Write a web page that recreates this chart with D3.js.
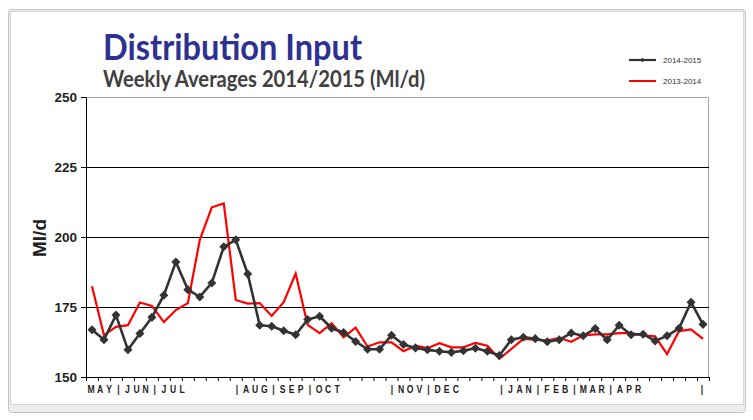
<!DOCTYPE html>
<html>
<head>
<meta charset="utf-8">
<script src="https://cdn.jsdelivr.net/npm/d3@7"></script>
<style>
  body { margin: 0; background: #fff; }
  svg { display: block; font-family: "Liberation Sans", Arial, sans-serif; }
</style>
</head>
<body>
<svg id="chart" width="753" height="420"></svg>
<script>
// weekly averages, May -> April (52 weeks)
const weeks = d3.range(52);
const series1415 = [166.9, 163.3, 172.1, 159.7, 165.5, 171.3, 179.2, 191.1, 181.2, 178.6,
  183.6, 196.5, 199.0, 186.8, 168.5, 168.1, 166.5, 165.1, 170.5, 171.7,
  167.4, 165.9, 162.7, 159.9, 159.9, 164.9, 161.6, 160.4, 159.7, 159.2,
  158.8, 159.4, 160.3, 159.2, 157.7, 163.3, 164.2, 163.7, 162.6, 163.3,
  165.7, 164.7, 167.3, 163.3, 168.5, 165.1, 165.3, 162.9, 164.7, 167.4,
  176.7, 168.8];
const series1314 = [182.4, 164.9, 167.9, 168.5, 176.6, 175.4, 169.6, 173.9, 176.4, 199.0,
  210.6, 212.0, 177.5, 176.2, 176.4, 171.8, 176.7, 186.9, 168.6, 165.7,
  169.2, 164.2, 167.6, 160.9, 162.4, 162.4, 159.2, 161.2, 160.3, 162.1,
  160.6, 160.6, 162.2, 161.2, 156.5, 160.0, 163.6, 163.3, 163.0, 164.0,
  162.6, 164.9, 165.2, 165.2, 165.7, 165.7, 164.9, 164.5, 158.2, 166.4,
  167.0, 163.6];
const seriesNames = ["2014-2015", "2013-2014"];
const yTicks = [150, 175, 200, 225, 250];
const monthLabel = "MAY|JUN|JUL     |AUG|SEP|OCT     |NOV|DEC    |JAN|FEB|MAR|APR      |";

const svg = d3.select("#chart");
const margin = {top: 97, left: 86, right: 44, bottom: 43};
const W = 753, H = 420;
const width = W - margin.left - margin.right,
  height = H - margin.top - margin.bottom;

// frame
svg.append("rect").attr("x", 8.5).attr("y", 9.5).attr("width", 737).attr("height", 403)
  .attr("rx", 3).attr("fill", "#ececec").attr("stroke", "#c4c4c4");
svg.append("rect").attr("x", 10.5).attr("y", 11.5).attr("width", 733).attr("height", 393)
  .attr("fill", "#fff").attr("stroke", "#d4d4d4");

const x = d3.scaleLinear().domain([0, 52]).range([0, width]);
const y = d3.scaleLinear().domain([150, 250]).range([height, 0]);

const g = svg.append("g").attr("transform", `translate(${margin.left},${margin.top})`);

// plot area border (top/right gray)
g.append("path")
  .attr("d", `M0,0.5H${width - 0.5}V${height}`)
  .attr("fill", "none").attr("stroke", "#a6a6a6");

// gridlines
g.append("g")
  .call(d3.axisLeft(y).tickValues([175, 200, 225]).tickSize(-width).tickFormat(""))
  .call(a => a.select(".domain").remove())
  .selectAll("line").attr("stroke", "#000");

// y axis
g.append("g")
  .call(d3.axisLeft(y).tickValues(yTicks).tickSize(5).tickPadding(4))
  .call(a => a.select(".domain").attr("stroke", "#000"))
  .call(a => a.selectAll("line").attr("stroke", "#000"))
  .call(a => a.selectAll("text")
    .attr("font-size", 13.5).attr("font-weight", "bold").attr("fill", "#222"));

// x axis, ticks between weeks
g.append("g")
  .attr("transform", `translate(0,${height})`)
  .call(d3.axisBottom(x).tickValues(d3.range(53)).tickSize(4).tickFormat(""))
  .call(a => a.selectAll("line, .domain").attr("stroke", "#000"));

// month label strip
const slot = d3.scaleLinear().domain([0, monthLabel.length - 1])
  .range([x(0.5) - 1, x(51.5) - 1]);
g.append("g")
  .selectAll("text")
  .data(monthLabel.split("").map((c, i) => ({c, i})).filter(d => d.c !== " "))
  .join("text")
  .attr("transform", d => `translate(${slot(d.i)},${height + 16}) scale(0.82,1)`)
  .attr("text-anchor", "middle")
  .attr("font-size", 10.5)
  .attr("font-weight", "bold")
  .attr("fill", "#222")
  .text(d => d.c);

// lines
const line = d3.line()
  .x((d, i) => x(i + 0.5))
  .y(d => y(d));

g.append("path")
  .datum(series1314)
  .attr("fill", "none")
  .attr("stroke", "#ff0000")
  .attr("stroke-width", 2.2)
  .attr("d", line);

g.append("path")
  .datum(series1415)
  .attr("fill", "none")
  .attr("stroke", "#333")
  .attr("stroke-width", 2.6)
  .attr("d", line);

const diamond = d3.symbol().type(d3.symbolDiamond2).size(52);
g.selectAll(".pt")
  .data(series1415)
  .join("path")
  .attr("class", "pt")
  .attr("transform", (d, i) => `translate(${x(i + 0.5)},${y(d)})`)
  .attr("d", diamond)
  .attr("fill", "#333");

// axis title
svg.append("text")
  .attr("transform", "translate(46,238) rotate(-90)")
  .attr("text-anchor", "middle")
  .attr("font-size", 19)
  .attr("font-weight", "bold")
  .attr("fill", "#222")
  .text("Ml/d");

// titles
svg.append("text")
  .attr("x", 103).attr("y", 60)
  .attr("font-family", "Lato, 'Open Sans', sans-serif")
  .attr("font-size", 37)
  .attr("font-weight", "bold")
  .attr("fill", "#2e3192")
  .attr("textLength", 259).attr("lengthAdjust", "spacingAndGlyphs")
  .text("Distribution Input");

svg.append("text")
  .attr("x", 103).attr("y", 87)
  .attr("font-family", "Lato, 'Open Sans', sans-serif")
  .attr("font-size", 22)
  .attr("font-weight", "bold")
  .attr("fill", "#404040")
  .attr("textLength", 322).attr("lengthAdjust", "spacingAndGlyphs")
  .text("Weekly Averages 2014/2015 (Ml/d)");

// legend
const legend = svg.append("g").attr("transform", "translate(629,60)");
const items = legend.selectAll("g")
  .data(seriesNames)
  .join("g")
  .attr("transform", (d, i) => `translate(0,${i * 21})`);
items.append("line")
  .attr("x1", 0).attr("x2", 27)
  .attr("stroke", (d, i) => i === 0 ? "#333" : "#ff0000")
  .attr("stroke-width", (d, i) => i === 0 ? 2.2 : 2);
items.filter((d, i) => i === 0).append("path")
  .attr("transform", "translate(13.5,0)")
  .attr("d", d3.symbol().type(d3.symbolDiamond2).size(14))
  .attr("fill", "#333");
items.append("text")
  .attr("x", 34).attr("y", 3)
  .attr("font-size", 8)
  .attr("fill", "#333")
  .text(d => d);
</script>
</body>
</html>
